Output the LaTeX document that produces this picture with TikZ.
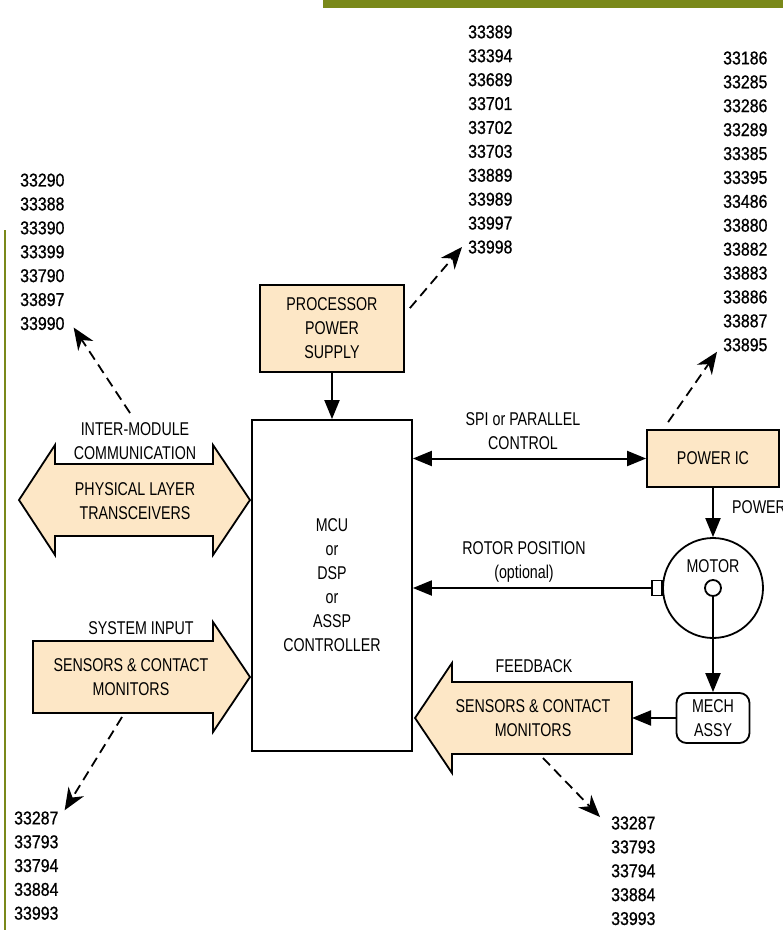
\documentclass[tikz,border=0pt]{standalone}
\usepackage{fontspec}
\setmainfont{Liberation Sans}[FakeStretch=0.77]
\newfontfamily\numfont{Liberation Sans}[FakeStretch=0.86,FakeBold=0.8]
\usepackage{tikz}
\usetikzlibrary{arrows.meta,positioning}
\definecolor{peach}{RGB}{253,231,198}
\definecolor{olivebar}{RGB}{122,137,26}
\tikzset{
  blkP/.style={ draw, line width=1.8pt, fill=peach, align=center, inner sep=0pt, font=\fontsize{18.5}{24}\selectfont }
}
\tikzset{
  blkW/.style={ draw, line width=1.8pt, align=center, inner sep=0pt, font=\fontsize{18.5}{24}\selectfont }
}
\tikzset{
  lbl/.style={ align=center, inner sep=0pt, font=\fontsize{18.5}{24}\selectfont }
}
\tikzset{
  num/.style={ anchor=west, inner sep=0pt, font=\numfont\fontsize{18.5}{24}\selectfont }
}
\tikzset{
  bigarrow/.style={ draw, line width=1.8pt, fill=peach, line join=miter }
}
\tikzset{
  sol/.style={ line width=2pt, -{Triangle[length=19pt,width=15pt]} }
}
\tikzset{
  dbl/.style={ line width=2pt, {Triangle[length=19pt,width=15pt]}-{Triangle[length=19pt,width=15pt]} }
}
\tikzset{
  dsh/.style={ line width=1.8pt, dash pattern=on 10pt off 6pt, -{Stealth[length=22pt,width=18pt,inset=7pt]} }
}
\begin{document}
\begin{tikzpicture}[x=1pt, y=-1pt]
      \useasboundingbox (0,0) rectangle (783,937);
      % page decoration
      \fill[olivebar] (323,0) rectangle (783,8);
      \draw[olivebar, line width=1.2pt] (5,230) -- (5,930);

      % big arrows
      \draw[bigarrow] (19,500) -- (55,445) -- (55,464) -- (213,464) -- (213,445) -- (250,500)
        -- (213,555) -- (213,536) -- (55,536) -- (55,555) -- cycle;
      \node[lbl] (phy) at (135,501) {PHYSICAL LAYER\\TRANSCEIVERS};
      \node[lbl] (inter) at (135,441) {INTER-MODULE\\COMMUNICATION};

      \draw[bigarrow] (33,641) -- (213,641) -- (213,622) -- (250,677) -- (213,732) -- (213,713) -- (33,713) -- cycle;
      \node[lbl] (sysin) at (131,677) {SENSORS \& CONTACT\\MONITORS};
      \node[lbl] (syslbl) at (141,628) {SYSTEM INPUT};

      \draw[bigarrow] (632,682) -- (452,682) -- (452,663) -- (415,718) -- (452,773) -- (452,754) -- (632,754) -- cycle;
      \coordinate (fbin) at (632,718);
      \node[lbl] (fb) at (533,718) {SENSORS \& CONTACT\\MONITORS};
      \node[lbl] (fblbl) at (534,666) {FEEDBACK};

      % blocks
      \node[blkW, minimum width=160, minimum height=331] (mcu) at (332,585.5) {MCU\\or\\DSP\\or\\ASSP\\CONTROLLER};
      \node[blkP, minimum width=144, minimum height=87] (pps) at (332,328.5) {PROCESSOR\\POWER\\SUPPLY};
      \node[blkP, minimum width=132, minimum height=57] (pwr) at (713,458.5) {POWER IC};
      \node[circle, draw, line width=1.8pt, minimum size=100, inner sep=0pt] (motor) at (713,588) {};
      \node[lbl] (motorlbl) at (713,566) {MOTOR};
      \node[circle, draw, line width=1.8pt, minimum size=16, inner sep=0pt] (shaft) at (713,588) {};
      \node[draw, fill=white, line width=1.8pt, minimum width=10, minimum height=15, inner sep=0pt] (enc) at (657,588) {};
      \node[blkW, rounded corners=10pt, minimum width=73, minimum height=50] (mech) at (713,718) {MECH\\ASSY};

      \draw[sol] (pps) -- (mcu);
      \draw[dbl] (mcu.east |- pwr.west) -- (pwr.west);
      \draw[sol] (pwr) -- (motor);
      \draw[sol] (enc.west) -- (enc.west -| mcu.east);
      \draw[sol] (shaft) -- (mech);
      \draw[sol] (mech) -- (fbin);

      \node[lbl] (spi) at (523,431.5) {SPI or PARALLEL\\CONTROL};
      \node[lbl] (rotor) at (524,562) {ROTOR POSITION\\(optional)};
      \node[lbl, anchor=west] (pwrlbl) at (732,507) {POWER};

      % part numbers
      \foreach \n [count=\i] in {33389,33394,33689,33701,33702,33703,33889,33989,33997,33998}
        \node[num] (top-\i) at (468, 8+23.9*\i) {\n};
      \foreach \n [count=\i] in {33186,33285,33286,33289,33385,33395,33486,33880,33882,33883,33886,33887,33895}
        \node[num] (rgt-\i) at (723, 34.1+23.9*\i) {\n};
      \foreach \n [count=\i] in {33290,33388,33390,33399,33790,33897,33990}
        \node[num] (lft-\i) at (20, 156.2+23.9*\i) {\n};
      \foreach \n [count=\i] in {33287,33793,33794,33884,33993}
        \node[num] (lowl-\i) at (14, 794.2+23.8*\i) {\n};
      \foreach \n [count=\i] in {33287,33793,33794,33884,33993}
        \node[num] (lowr-\i) at (611, 799.1+23.9*\i) {\n};

      % dashed pointers to part numbers
      \coordinate (ppsout) at ([shift={(5,24)}]pps.north east);
      \coordinate (pwrout) at ([shift={(22,-7)}]pwr.north west);
      \coordinate (interout) at (130,413);
      \coordinate (sysout) at (122,717);
      \coordinate (fbout) at (543,758);
      \draw[dsh] (ppsout) -- ([shift={(-6,0)}]top-10.west);
      \draw[dsh] (pwrout) -- ([shift={(-6,7)}]rgt-13.west);
      \draw[dsh] (interout) -- ([shift={(9,4)}]lft-7.east);
      \draw[dsh] (sysout) -- ([shift={(6,-1)}]lowl-1.north east);
      \draw[dsh] (fbout) -- ([shift={(-11,-6)}]lowr-1.west);
\end{tikzpicture}
\end{document}
